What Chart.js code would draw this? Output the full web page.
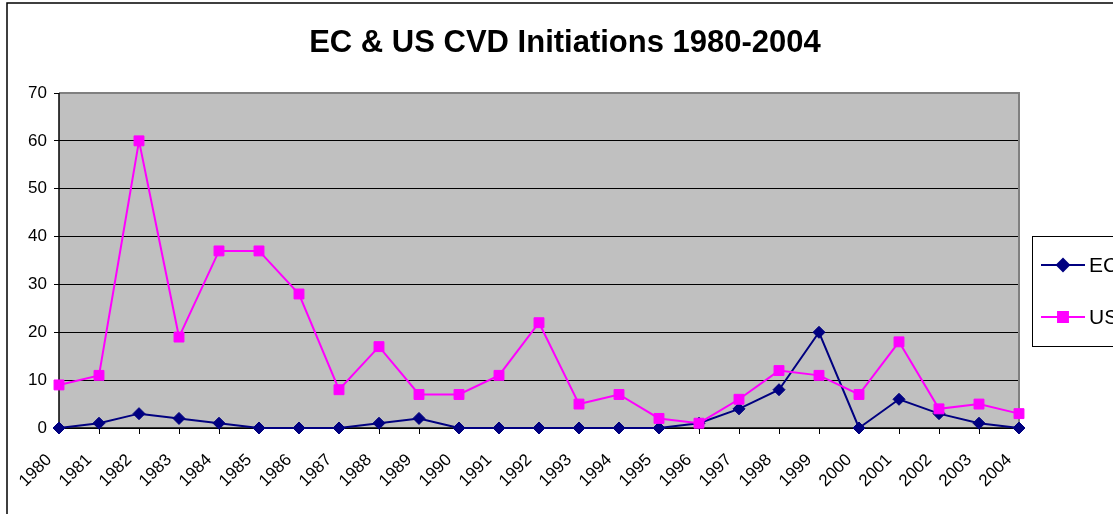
<!DOCTYPE html>
<html>
<head>
<meta charset="utf-8">
<script src="https://cdn.jsdelivr.net/npm/chart.js@4/dist/chart.umd.min.js"></script>
<style>
  html, body { margin: 0; padding: 0; background: #fff; }
  #wrap { width: 1113px; height: 514px; position: relative; }
</style>
</head>
<body>
<div id="wrap"><canvas id="cvd"></canvas></div>
<script>
    // years on the x axis
    const years = ['1980', '1981', '1982', '1983', '1984', '1985', '1986', '1987', '1988', '1989',
      '1990', '1991', '1992', '1993', '1994', '1995', '1996', '1997', '1998', '1999',
      '2000', '2001', '2002', '2003', '2004'];

    // CVD initiations per year
    const ecValues = [0, 1, 3, 2, 1, 0, 0, 0, 1, 2, 0, 0, 0, 0, 0, 0, 1, 4, 8, 20, 0, 6, 3, 1, 0];
    const usValues = [9, 11, 60, 19, 37, 37, 28, 8, 17, 7, 7, 11, 22, 5, 7, 2, 1, 6, 12, 11, 7, 18, 4, 5, 3];

    const yTicks = [0, 10, 20, 30, 40, 50, 60, 70];

    const chartTitle = 'EC & US CVD Initiations 1980-2004';
    const font = 'Arial, "Liberation Sans", sans-serif';

    // grey plot area, frame, outer border and title
    const excelLook = {
      id: 'excelLook',
      beforeDraw(chart) {
        const ctx = chart.ctx;
        const a = chart.chartArea;
        ctx.save();
        ctx.fillStyle = '#fff';
        ctx.fillRect(0, 0, chart.width, chart.height);
        ctx.strokeStyle = '#000';
        ctx.lineWidth = 1.5;
        ctx.strokeRect(7, 3, chart.width + 20, chart.height + 20);
        ctx.fillStyle = '#c0c0c0';
        ctx.fillRect(a.left, a.top, a.right - a.left, a.bottom - a.top);
        ctx.fillStyle = '#000';
        ctx.font = 'bold 31px ' + font;
        ctx.textAlign = 'center';
        ctx.textBaseline = 'middle';
        ctx.fillText(chartTitle, 565, 43);
        ctx.restore();
      },
      beforeDatasetsDraw(chart) {
        const ctx = chart.ctx;
        const a = chart.chartArea;
        ctx.save();
        ctx.strokeStyle = '#808080';
        ctx.lineWidth = 2;
        ctx.beginPath();
        ctx.moveTo(a.left, a.top);
        ctx.lineTo(a.right, a.top);
        ctx.lineTo(a.right, a.bottom);
        ctx.stroke();
        ctx.strokeStyle = '#000';
        ctx.lineWidth = 1.5;
        ctx.beginPath();
        ctx.moveTo(a.left, a.top);
        ctx.lineTo(a.left, a.bottom);
        ctx.lineTo(a.right, a.bottom);
        ctx.stroke();
        ctx.restore();
      }
    };

    // legend box on the right, partly cut off like the original
    const boxLegend = {
      id: 'boxLegend',
      afterDraw(chart) {
        const ctx = chart.ctx;
        const x0 = 1032, y0 = 236;
        ctx.save();
        ctx.fillStyle = '#fff';
        ctx.fillRect(x0, y0, 200, 110);
        ctx.strokeStyle = '#000';
        ctx.lineWidth = 1;
        ctx.strokeRect(x0 + 0.5, y0 + 0.5, 200, 110);
        const rows = [265, 317];
        chart.data.datasets.forEach((ds, i) => {
          const y = rows[i];
          ctx.strokeStyle = ds.borderColor;
          ctx.lineWidth = 2;
          ctx.beginPath();
          ctx.moveTo(1041, y);
          ctx.lineTo(1085, y);
          ctx.stroke();
          Chart.helpers.drawPoint(ctx, {
            pointStyle: ds.pointStyle,
            radius: ds.pointRadius,
            borderWidth: 1,
            rotation: 0
          }, 1063, y);
          ctx.fillStyle = ds.pointBackgroundColor;
          ctx.strokeStyle = ds.borderColor;
          ctx.fill();
          ctx.fillStyle = '#000';
          ctx.font = '21px ' + font;
          ctx.textAlign = 'left';
          ctx.textBaseline = 'middle';
          ctx.fillText(ds.label, 1089, y + 1);
        });
        ctx.restore();
      }
    };

    new Chart(document.getElementById('cvd'), {
      type: 'line',
      data: {
        labels: years,
        datasets: [{
          label: 'EC',
          data: ecValues,
          borderColor: '#000080',
          backgroundColor: '#000080',
          pointBackgroundColor: '#000080',
          pointBorderColor: '#000080',
          pointStyle: 'rectRot',
          pointRadius: 6,
          pointBorderWidth: 1,
          borderWidth: 2,
          tension: 0,
          clip: false,
          order: 1
        }, {
          label: 'US',
          data: usValues,
          borderColor: '#ff00ff',
          backgroundColor: '#ff00ff',
          pointBackgroundColor: '#ff00ff',
          pointBorderColor: '#ff00ff',
          pointStyle: 'rect',
          pointRadius: 7,
          pointBorderWidth: 1,
          borderWidth: 2,
          tension: 0,
          clip: false,
          order: 0
        }]
      },
      options: {
        responsive: true,
        maintainAspectRatio: false,
        animation: false,
        layout: { padding: { left: 0, right: 94, top: 93, bottom: 0 } },
        plugins: {
          legend: { display: false },
          title: { display: false },
          tooltip: { enabled: false }
        },
        scales: {
          x: {
            offset: false,
            afterFit(scale) { scale.height = 86; },
            grid: { drawOnChartArea: false, drawTicks: true, tickLength: 6, color: '#000' },
            border: { display: false },
            ticks: {
              color: '#000',
              font: { family: font, size: 17 },
              minRotation: 45,
              maxRotation: 45,
              autoSkip: false,
              padding: 16,
              labelOffset: -10
            }
          },
          y: {
            min: 0,
            max: 70,
            afterFit(scale) { scale.width = 59; },
            afterBuildTicks(scale) { scale.ticks = yTicks.map(v => ({ value: v })); },
            grid: { color: '#000', lineWidth: 1, drawTicks: true, tickLength: 5 },
            border: { display: false },
            ticks: {
              color: '#000',
              font: { family: font, size: 17 },
              padding: 7
            }
          }
        }
      },
      plugins: [excelLook, boxLegend]
    });
</script>
</body>
</html>
